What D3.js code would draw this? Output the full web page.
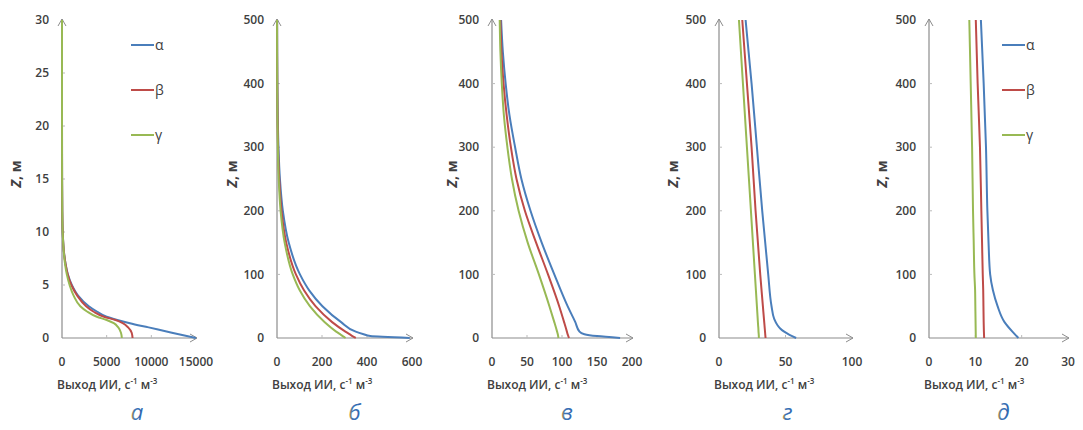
<!DOCTYPE html>
<html>
<head>
<meta charset="utf-8">
<script src="https://cdn.jsdelivr.net/npm/d3@7"></script>
<style>
  body { margin: 0; background: #fff; }
  text { font-family: 'Open Sans', sans-serif; fill: #404040; }
</style>
</head>
<body>
<div class="vis-container"></div>
<script>
const SERIES = ['α', 'β', 'γ'];
const PANEL_LETTERS = ['а', 'б', 'в', 'г', 'д'];

// panel а: depth 0..30 m
const zA = [0, 0.5, 1, 1.4, 1.7, 2, 2.5, 3, 4, 5, 6, 7, 8, 10, 12, 15, 20, 25, 30];
const alphaA = [15000, 12300, 9700, 7600, 6200, 5000, 3900, 3000, 1800, 1100, 650, 400, 230, 80, 30, 8, 1, 0, 0];
const betaA = [7900, 7800, 7400, 6800, 6000, 4700, 3500, 2700, 1700, 1050, 640, 390, 230, 80, 30, 8, 1, 0, 0];
const gammaA = [6700, 6600, 6300, 5800, 5000, 3900, 2800, 2050, 1300, 850, 540, 340, 210, 75, 28, 8, 1, 0, 0];

// panel б
const zB = [0, 3, 6, 10, 25, 50, 75, 100, 150, 200, 250, 300, 350, 400, 450, 500];
const alphaB = [590, 415, 385, 350, 285, 202, 143, 102, 52, 26, 13, 6.6, 3.3, 1.7, 0.9, 0.4];
const betaB = [350, 335, 322, 304, 245, 171, 120, 84, 41, 20, 10, 4.8, 2.4, 1.2, 0.6, 0.3];
const gammaB = [305, 292, 280, 263, 211, 146, 101, 70, 34, 16, 7.7, 3.7, 1.8, 0.9, 0.4, 0.2];

// panel в
const zV = [0, 3, 6, 10, 25, 50, 100, 150, 200, 250, 300, 350, 400, 450, 500];
const alphaV = [183, 150, 132, 125, 119, 108, 89, 71, 55, 42, 33, 25, 19.5, 15.5, 13];
const betaV = [110, 109, 108, 107, 103, 96, 80, 63, 47, 35, 27, 21, 16.5, 13.5, 12];
const gammaV = [95, 94.5, 94, 93, 89, 82, 67, 51, 38, 28.5, 22, 17, 14, 12, 11];

// panel г
const zG = [0, 5, 10, 15, 20, 30, 50, 100, 200, 300, 400, 500];
const alphaG = [58, 53, 49, 46, 44, 41.5, 39.5, 37, 32.5, 28.5, 24.5, 20];
const betaG = [35, 34.8, 34.6, 34.4, 34.2, 33.8, 33, 31, 27.5, 24.5, 21, 17.5];
const gammaG = [30, 29.9, 29.7, 29.6, 29.4, 29.1, 28.5, 27, 24, 21, 18, 15];

// panel д
const zD = [0, 10, 25, 50, 75, 100, 150, 200, 300, 400, 500];
const alphaD = [19.3, 18, 16.3, 14.8, 13.8, 13.2, 12.85, 12.6, 12.3, 11.8, 11.2];
const betaD = [11.9, 11.85, 11.8, 11.75, 11.7, 11.6, 11.45, 11.3, 11.0, 10.5, 10.1];
const gammaD = [10.1, 10.08, 10.05, 10, 9.95, 9.8, 9.65, 9.5, 9.3, 9.0, 8.7];

const xTicksA = [0, 5000, 10000, 15000];
const xTicksB = [0, 200, 400, 600];
const xTicksV = [0, 50, 100, 150, 200];
const xTicksG = [0, 50, 100];
const xTicksD = [0, 10, 20, 30];
const yTicksA = [0, 5, 10, 15, 20, 25, 30];
const yTicks500 = [0, 100, 200, 300, 400, 500];

const COLORS = ['#4a7ebb', '#be4b48', '#98b954'];

const panels = [
  {z: zA, vals: [alphaA, betaA, gammaA], xTicks: xTicksA, yTicks: yTicksA, x0: 62, x1: 196, legend: true, zLabelOff: 46},
  {z: zB, vals: [alphaB, betaB, gammaB], xTicks: xTicksB, yTicks: yTicks500, x0: 277, x1: 412, legend: false, zLabelOff: 45},
  {z: zV, vals: [alphaV, betaV, gammaV], xTicks: xTicksV, yTicks: yTicks500, x0: 492, x1: 632, legend: false, zLabelOff: 40},
  {z: zG, vals: [alphaG, betaG, gammaG], xTicks: xTicksG, yTicks: yTicks500, x0: 719, x1: 852, legend: false, zLabelOff: 46},
  {z: zD, vals: [alphaD, betaD, gammaD], xTicks: xTicksD, yTicks: yTicks500, x0: 929, x1: 1068, legend: true, zLabelOff: 47}
];

const width = 1083;
const height = 430;
const yTop = 20;
const yBottom = 338;

const svg = d3.select('.vis-container').append('svg')
  .attr('width', width)
  .attr('height', height);

const defs = svg.append('defs');
const grad = defs.append('linearGradient')
  .attr('id', 'letterGrad')
  .attr('x1', '0%').attr('x2', '100%').attr('y1', '0%').attr('y2', '0%');
grad.append('stop').attr('offset', '0%').attr('stop-color', '#e0902a');
grad.append('stop').attr('offset', '30%').attr('stop-color', '#3f74b8');
grad.append('stop').attr('offset', '100%').attr('stop-color', '#2f64ac');

panels.forEach((p, pi) => {
  const xMax = p.xTicks[p.xTicks.length - 1];
  const yMax = p.yTicks[p.yTicks.length - 1];
  const x = d3.scaleLinear().domain([0, xMax]).range([p.x0, p.x1]);
  const y = d3.scaleLinear().domain([0, yMax]).range([yBottom, yTop]);
  const g = svg.append('g').attr('class', 'panel');

  // axes
  const axisColor = '#8c8c8c';
  g.append('line')
    .attr('x1', x(0)).attr('x2', x(xMax) + 1)
    .attr('y1', y(0)).attr('y2', y(0))
    .attr('stroke', axisColor).attr('stroke-width', 1.2);
  g.append('line')
    .attr('x1', x(0)).attr('x2', x(0))
    .attr('y1', y(0)).attr('y2', y(yMax) - 1)
    .attr('stroke', axisColor).attr('stroke-width', 1.2);
  // arrow heads
  g.append('path')
    .attr('d', `M${x(xMax) - 6},${y(0) - 4} L${x(xMax) + 1},${y(0)} L${x(xMax) - 6},${y(0) + 4}`)
    .attr('fill', 'none').attr('stroke', axisColor).attr('stroke-width', 1);
  g.append('path')
    .attr('d', `M${x(0) - 4},${y(yMax) + 6} L${x(0)},${y(yMax) - 1} L${x(0) + 4},${y(yMax) + 6}`)
    .attr('fill', 'none').attr('stroke', axisColor).attr('stroke-width', 1);

  // small ticks
  g.selectAll('.ytick').data(p.yTicks.slice(1, -1))
    .enter().append('line')
      .attr('x1', x(0)).attr('x2', x(0) + 3)
      .attr('y1', d => y(d)).attr('y2', d => y(d))
      .attr('stroke', '#bbb');
  g.selectAll('.xtick').data(p.xTicks.slice(1, -1))
    .enter().append('line')
      .attr('x1', d => x(d)).attr('x2', d => x(d))
      .attr('y1', y(0)).attr('y2', y(0) - 3)
      .attr('stroke', '#bbb');

  // tick labels
  g.selectAll('.ylab').data(p.yTicks)
    .enter().append('text')
      .attr('x', x(0) - 13)
      .attr('y', d => y(d))
      .attr('dy', '0.35em')
      .attr('text-anchor', 'end')
      .attr('font-size', 12)
      .attr('font-weight', 600)
      .text(d => d);
  g.selectAll('.xlab').data(p.xTicks)
    .enter().append('text')
      .attr('x', d => x(d))
      .attr('y', 362)
      .attr('dy', '0.35em')
      .attr('text-anchor', 'middle')
      .attr('font-size', 12)
      .attr('font-weight', 600)
      .text(d => d);

  // axis titles
  const xt = g.append('text')
    .attr('x', x(0) - 5)
    .attr('y', 389)
    .attr('font-size', 12)
    .attr('font-weight', 600);
  xt.append('tspan').text('Выход ИИ, с');
  xt.append('tspan').attr('dy', -5).attr('font-size', 8).text('-1');
  xt.append('tspan').attr('dy', 5).text(' м');
  xt.append('tspan').attr('dy', -5).attr('font-size', 8).text('-3');

  const yt = g.append('text')
    .attr('transform', `translate(${x(0) - p.zLabelOff + 5}, 174) rotate(-90)`)
    .attr('text-anchor', 'middle')
    .attr('font-size', 14)
    .attr('font-weight', 700);
  yt.append('tspan').attr('font-style', 'italic').text('Z');
  yt.append('tspan').text(', м');

  // series lines
  const line = d3.line()
    .x(d => x(d[1]))
    .y(d => y(d[0]))
    .curve(d3.curveMonotoneY);
  p.vals.forEach((vals, si) => {
    g.append('path')
      .datum(p.z.map((z, i) => [z, vals[i]]))
      .attr('d', line)
      .attr('fill', 'none')
      .attr('stroke', COLORS[si])
      .attr('stroke-width', 2);
  });

  // legend
  if (p.legend) {
    const lx = pi === 0 ? 131 : 1002;
    SERIES.forEach((s, si) => {
      const ly = 45 + si * 45;
      g.append('line')
        .attr('x1', lx).attr('x2', lx + 23)
        .attr('y1', ly).attr('y2', ly)
        .attr('stroke', COLORS[si]).attr('stroke-width', 2);
      g.append('text')
        .attr('x', lx + 24).attr('y', ly)
        .attr('dy', '0.35em')
        .attr('font-size', 14)
        .text(s);
    });
  }

  // panel letter
  g.append('text')
    .attr('x', (x(0) + x(xMax)) / 2 + [8, 10, 5, 2, 5][pi])
    .attr('y', 420)
    .attr('text-anchor', 'middle')
    .attr('font-family', 'DejaVu Serif, serif')
    .attr('font-style', 'italic')
    .attr('font-size', 22)
    .style('fill', 'url(#letterGrad)')
    .text(PANEL_LETTERS[pi]);
});
</script>
</body>
</html>
